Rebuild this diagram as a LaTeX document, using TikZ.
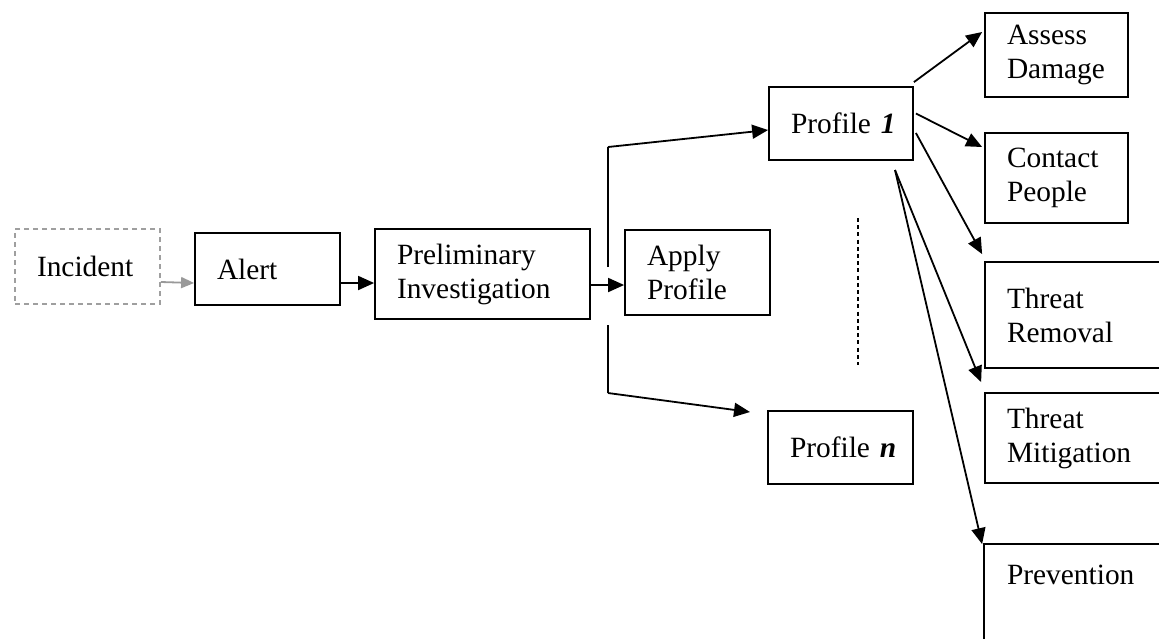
\documentclass[tikz,border=0pt]{standalone}
\usepackage{fontspec}
\setmainfont{Liberation Serif}
\usetikzlibrary{arrows.meta,calc}
\begin{document}
\begin{tikzpicture}[x=0.5pt,y=-0.5pt,
  box/.style={draw, line width=0.9pt, rectangle, inner xsep=11pt, inner ysep=0pt, align=left, font=\fontsize{14.7}{17}\selectfont},
  dbox/.style={box, draw=gray!75, dash pattern=on 2.5pt off 2pt},
  arr/.style={line width=0.9pt, -{Triangle[length=8pt,width=7pt]}},
  garr/.style={line width=0.9pt, draw=gray!80, -{Triangle[length=6.5pt,width=5.5pt,fill=gray!80]}},
  ln/.style={line width=0.9pt},
  dln/.style={line width=1pt, dash pattern=on 2pt off 1.6pt}]
\useasboundingbox (0,0) rectangle (1159,638);
\clip (0,0) rectangle (1159,638);

\node[dbox, minimum width=72.5pt, minimum height=37.5pt, text width=50.5pt] (inc) at (87.5,266.5) {\mbox{Incident}};
\node[box, minimum width=72.5pt, minimum height=36pt, text width=50.5pt] (alert) at (267.5,269) {Alert};
\node[box, minimum width=107.5pt, minimum height=45pt, text width=85.5pt] (prel) at (482.5,274) {Preliminary\\Investigation};
\node[box, minimum width=72.5pt, minimum height=42.5pt, text width=50.5pt] (apply) at (697.5,272.5) {Apply\\Profile};
\node[box, minimum width=72pt, minimum height=36.5pt, text width=50pt] (p1) at (841,123.5) {\mbox{Profile \textbf{\textit{1}}}};
\node[box, minimum width=72.5pt, minimum height=36.5pt, text width=50.5pt] (pn) at (840.5,447.5) {\mbox{Profile \textbf{\textit{n}}}};
\node[box, minimum width=71.5pt, minimum height=42pt, text width=49.5pt] (assess) at (1056.5,55) {\mbox{Assess}\\\mbox{Damage}};
\node[box, minimum width=71.5pt, minimum height=45pt, text width=49.5pt] (contact) at (1056.5,178) {Contact\\People};
\node[box, minimum width=95pt, minimum height=53pt, text width=73pt] (removal) at (1080,315) {Threat\\Removal};
\node[box, minimum width=95pt, minimum height=45pt, text width=73pt] (mitig) at (1080,438) {Threat\\Mitigation};
\node[box, draw=none, minimum width=95pt, minimum height=30pt, text width=73pt] (prev) at (1080,575) {Prevention};
\draw[ln] ([yshift=-60pt]prev.north west) -- (prev.north west) -- ([xshift=20pt]prev.north east);

% main chain
\draw[garr] ([yshift=-7.75pt]inc.east) -- ([yshift=-7pt]alert.west);
\draw[arr] ([yshift=-7pt]alert.east) -- ([yshift=-4.5pt]prel.west);
\draw[arr] ([yshift=-5.5pt]prel.east) -- ([yshift=-6.25pt]apply.west);

% fork
\coordinate (forkT) at (608,147);
\coordinate (forkTb) at (608,267);
\coordinate (forkB) at (608,393);
\coordinate (forkBb) at (608,325);
\coordinate (pnT) at (750,412);
\draw[ln] (forkTb) -- (forkT);
\draw[arr] (forkT) -- ([yshift=-3.25pt]p1.west);
\draw[ln] (forkBb) -- (forkB);
\draw[arr] (forkB) -- (pnT);

% dotted separator
\coordinate (dotT) at (858,218);
\coordinate (dotB) at (858,365);
\draw[dln] (dotT) -- (dotB);

% from profile 1
\draw[arr] ([yshift=2pt]p1.north east) -- ([xshift=-1pt,yshift=11.5pt]assess.west);
\draw[arr] ([xshift=1pt,yshift=5pt]p1.east) -- ([xshift=-1pt,yshift=15.5pt]contact.west);
\draw[arr] ([xshift=1pt,yshift=-4.75pt]p1.east) -- ([xshift=-1pt,yshift=3.5pt]removal.north west);
\coordinate (p1tail) at (895,170);
\draw[arr] (p1tail) -- ([xshift=-1.5pt,yshift=5pt]mitig.north west);
\draw[arr] (p1tail) -- ([xshift=-1pt]prev.north west);
\end{tikzpicture}
\end{document}
